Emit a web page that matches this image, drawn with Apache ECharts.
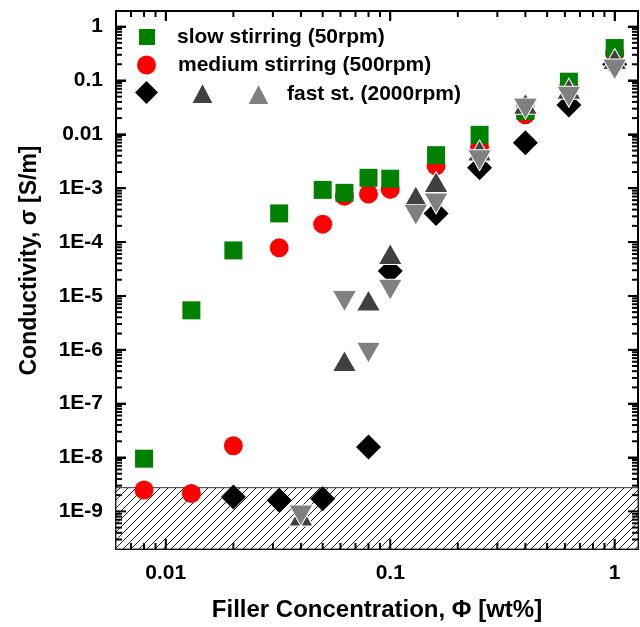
<!DOCTYPE html>
<html>
<head>
<meta charset="utf-8">
<script src="https://cdn.jsdelivr.net/npm/echarts@6/dist/echarts.min.js"></script>
<style>
  html, body { margin: 0; padding: 0; background: #fff; }
  #chart { width: 640px; height: 627px; }
</style>
</head>
<body>
<div id="chart"></div>
<script>
// values: x = filler wt%, y = conductivity S/m
const slowX = [0.008, 0.013, 0.02, 0.032, 0.05, 0.0625, 0.08, 0.1, 0.16, 0.25, 0.4, 0.625, 1];
const slowY = [9.5e-9, 5.4e-6, 7.0e-5, 3.4e-4, 9.3e-4, 8.2e-4, 1.56e-3, 1.5e-3, 4.1e-3, 9.8e-3, 0.027, 0.095, 0.4];

const mediumX = [0.008, 0.013, 0.02, 0.032, 0.05, 0.0625, 0.08, 0.1, 0.16, 0.25, 0.4, 0.625, 1];
const mediumY = [2.5e-9, 2.15e-9, 1.65e-8, 7.8e-5, 2.15e-4, 7.1e-4, 7.8e-4, 9.5e-4, 2.6e-3, 5.8e-3, 0.023, 0.08, 0.32];

const fastAX = [0.02, 0.032, 0.05, 0.08, 0.1, 0.16, 0.25, 0.4, 0.625, 1];
const fastAY = [1.85e-9, 1.6e-9, 1.72e-9, 1.56e-8, 2.9e-5, 3.4e-4, 2.4e-3, 7.0e-3, 0.035, 0.2];

const fastBX = [0.04, 0.0625, 0.08, 0.1, 0.13, 0.16, 0.25, 0.4, 0.625, 1];
const fastBY = [8.4e-10, 6.2e-7, 8.2e-6, 6.0e-5, 7.1e-4, 1.3e-3, 5.0e-3, 0.037, 0.07, 0.25];

const fastCX = [0.04, 0.0625, 0.08, 0.1, 0.13, 0.16, 0.25, 0.4, 0.625, 1];
const fastCY = [8.4e-10, 8.0e-6, 8.8e-7, 1.3e-5, 3.2e-4, 5.2e-4, 3.3e-3, 0.03, 0.05, 0.16];

const hatchTop = 2.75e-9; // measurement floor

const xTickLabels = ['0.01', '0.1', '1']; // 1e-2 .. 1e0
const yTickLabels = ['1E-9', '1E-8', '1E-7', '1E-6', '1E-5', '1E-4', '1E-3', '0.01', '0.1', '1']; // 1e-9 .. 1e0
const minorMults = [2, 3, 4, 5, 6, 7, 8, 9];
const xDecades = [0.001, 0.01, 0.1, 1];
const yDecades = [1e-10, 1e-9, 1e-8, 1e-7, 1e-6, 1e-5, 1e-4, 1e-3, 0.01, 0.1, 1];

const SLOW = 'slow stirring (50rpm)';
const MEDIUM = 'medium stirring (500rpm)';
const FAST_A = 'fast A';
const FAST_B = 'fast B';
const FAST_C = 'fast st. (2000rpm)';

const X_MIN = 0.006, X_MAX = 1.27;
const Y_MIN = 2e-10, Y_MAX = 1.95;
const FONT = "'Liberation Sans', Arial, Helvetica, sans-serif";

function pairs(xs, ys) {
  return xs.map((x, i) => [x, ys[i]]);
}

// tick positions (major at decades, minor at 2..9) inside the axis range
function tickList(decades, lo, hi) {
  const out = [];
  decades.forEach((d) => {
    if (d > lo * 1.0001 && d < hi * 0.9999) out.push([d, 10]);
    minorMults.forEach((m) => {
      const v = d * m;
      if (v > lo * 1.0001 && v < hi * 0.9999) out.push([v, 6]);
    });
  });
  return out;
}

function hatchPattern() {
  const c = document.createElement('canvas');
  c.width = 8;
  c.height = 8;
  const ctx = c.getContext('2d');
  ctx.fillStyle = '#fff';
  ctx.fillRect(0, 0, 8, 8);
  ctx.strokeStyle = '#222';
  ctx.lineWidth = 1;
  ctx.beginPath();
  for (const k of [-1, 0, 1]) {
    ctx.moveTo(k * 8, 8);
    ctx.lineTo(k * 8 + 8, 0);
  }
  ctx.stroke();
  return c;
}

const labelFont = { fontFamily: FONT, fontWeight: 'bold', fontSize: 21, color: '#000' };

const axisBase = {
  type: 'log',
  logBase: 10,
  splitLine: { show: false },
  axisLine: { show: true, lineStyle: { color: '#000', width: 2 } },
  axisTick: { show: true, inside: true, length: 10, lineStyle: { color: '#000', width: 2 } },
};

function xLabel(v) {
  return xTickLabels[Math.round(Math.log10(v)) + 2] || '';
}
function yLabel(v) {
  return yTickLabels[Math.round(Math.log10(v)) + 9] || '';
}

// tick marks drawn as thin filled rects sitting on the frame
const xTicks = tickList(xDecades, X_MIN, X_MAX);
const yTicks = tickList(yDecades, Y_MIN, Y_MAX);
const tickData = [].concat(
  xTicks.map((t) => ({ value: [t[0], Y_MIN], symbolSize: [2, t[1]], symbolOffset: [0, -t[1] / 2] })),
  xTicks.map((t) => ({ value: [t[0], Y_MAX], symbolSize: [2, t[1]], symbolOffset: [0, t[1] / 2] })),
  yTicks.map((t) => ({ value: [X_MIN, t[0]], symbolSize: [t[1], 2], symbolOffset: [t[1] / 2, 0] })),
  yTicks.map((t) => ({ value: [X_MAX, t[0]], symbolSize: [t[1], 2], symbolOffset: [-t[1] / 2, 0] }))
);

const legendText = { ...labelFont, lineHeight: 24, padding: [0, 0, 0, 17] };
const legendBase = { padding: 0, selectedMode: false, orient: 'horizontal', textStyle: legendText };

const chart = echarts.init(document.getElementById('chart'));

const option = {
  animation: false,
  backgroundColor: '#fff',
  grid: { left: 116, right: 2, top: 11, bottom: 71, show: true, borderColor: '#000', borderWidth: 2, backgroundColor: 'transparent' },
  legend: [
    { ...legendBase, data: [SLOW], left: 139, top: 25, itemWidth: 16, itemHeight: 16 },
    { ...legendBase, data: [MEDIUM], left: 137, top: 53, itemWidth: 19, itemHeight: 19 },
    { ...legendBase, data: [FAST_A], left: 135, top: 81, itemWidth: 23, itemHeight: 23, formatter: () => '', textStyle: { ...legendText, padding: 0 } },
    { ...legendBase, data: [FAST_B], left: 190, top: 81, itemWidth: 23, itemHeight: 22, formatter: () => '', textStyle: { ...legendText, padding: 0 } },
    { ...legendBase, data: [FAST_C], left: 246, top: 82, itemWidth: 23, itemHeight: 22, textStyle: { ...legendText, padding: [0, 0, 0, 12] } },
  ],
  xAxis: [
    {
      ...axisBase,
      position: 'bottom',
      min: X_MIN,
      max: X_MAX,
      axisLabel: { ...labelFont, margin: 14, formatter: xLabel, showMinLabel: false, showMaxLabel: false },
      name: 'Filler Concentration, Φ [wt%]',
      nameLocation: 'middle',
      nameGap: 49,
      nameTextStyle: { ...labelFont, fontSize: 24 },
    },
    { ...axisBase, position: 'top', min: X_MIN, max: X_MAX, axisLabel: { show: false } },
  ],
  yAxis: [
    {
      ...axisBase,
      position: 'left',
      min: Y_MIN,
      max: Y_MAX,
      splitNumber: 10,
      axisLabel: { ...labelFont, margin: 13, formatter: yLabel, showMinLabel: false, showMaxLabel: false },
      name: 'Conductivity, σ [S/m]',
      nameLocation: 'middle',
      nameGap: 75,
      nameTextStyle: { ...labelFont, fontSize: 23, padding: [0, 0, 0, 39] },
    },
    { ...axisBase, position: 'right', min: Y_MIN, max: Y_MAX, splitNumber: 10, axisLabel: { show: false } },
  ],
  series: [
    {
      name: 'floor',
      type: 'scatter',
      data: [],
      z: 1,
      markArea: {
        silent: true,
        itemStyle: { color: { image: hatchPattern(), repeat: 'repeat' }, borderColor: '#333', borderWidth: 1 },
        data: [[{ yAxis: Y_MIN }, { yAxis: hatchTop }]],
      },
    },
    { name: MEDIUM, type: 'scatter', z: 3, symbol: 'circle', symbolSize: 19, itemStyle: { color: '#ff0000', opacity: 1 }, data: pairs(mediumX, mediumY) },
    { name: SLOW, type: 'scatter', z: 3, symbol: 'rect', symbolSize: 18, itemStyle: { color: '#008000', opacity: 1 }, data: pairs(slowX, slowY) },
    { name: FAST_A, type: 'scatter', z: 3, symbol: 'diamond', symbolSize: 25, itemStyle: { color: '#000000', opacity: 1 }, data: pairs(fastAX, fastAY) },
    { name: FAST_B, type: 'scatter', z: 3, symbol: 'triangle', symbolSize: [24, 21], itemStyle: { color: '#404040', opacity: 1, borderColor: '#fff', borderWidth: 1 }, data: pairs(fastBX, fastBY) },
    { name: FAST_C, type: 'scatter', z: 3, symbol: 'triangle', symbolRotate: 180, symbolSize: [24, 21], itemStyle: { color: '#808080', opacity: 1, borderColor: '#fff', borderWidth: 1 }, data: pairs(fastCX, fastCY) },
    {
      name: 'ticks',
      type: 'scatter',
      silent: true,
      clip: false,
      z: 5,
      symbol: 'rect',
      itemStyle: { color: '#000', opacity: 1 },
      emphasis: { disabled: true },
      data: tickData,
    },
  ],
};

chart.setOption(option);
</script>
</body>
</html>
